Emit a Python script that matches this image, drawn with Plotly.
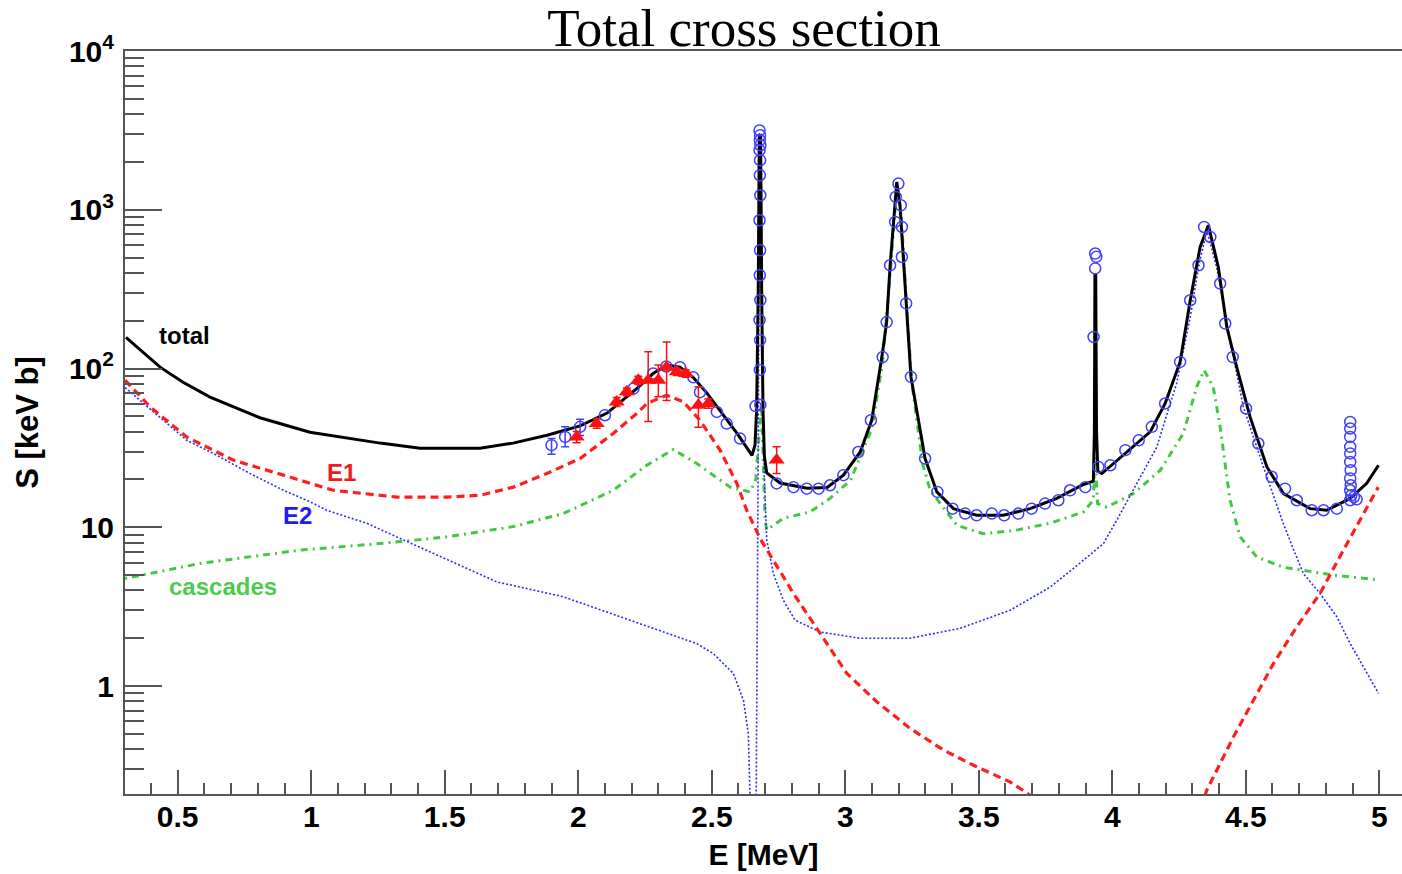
import math
import plotly.graph_objects as go

# ---------------- data (E in MeV, S in keV b) ----------------
total_E = [0.306, 0.37, 0.434, 0.52, 0.621, 0.808, 0.995, 1.258, 1.408, 1.632, 1.756, 1.883, 2.007, 2.108,
           2.158, 2.220, 2.280, 2.333, 2.381, 2.430, 2.482, 2.531, 2.594, 2.651, 2.662, 2.668, 2.674,
           2.678, 2.683, 2.687, 2.692, 2.697, 2.706, 2.756, 2.857, 2.932, 2.993, 3.056, 3.099, 3.137,
           3.155, 3.168, 3.180, 3.193, 3.205, 3.218, 3.228, 3.246, 3.299, 3.343, 3.405, 3.492, 3.592,
           3.692, 3.792, 3.892, 3.929, 3.933, 3.935, 3.938, 3.941, 3.946, 3.961, 4.042, 4.142, 4.198,
           4.254, 4.292, 4.329, 4.360, 4.397, 4.429, 4.466, 4.516, 4.579, 4.641, 4.741, 4.803, 4.891,
           4.953, 4.997]
total_S = [157, 126, 102, 82, 66, 49, 39.7, 33.9, 31.5, 31.5, 33.9, 38, 43.5, 52.4,
           61.4, 75, 93, 105, 102, 88, 70, 54.6, 39.2, 28.4, 33, 55, 300,
           2950, 2950, 300, 55, 28, 22, 19, 17.6, 17.8, 21.3, 29.8, 47.2, 118,
           196, 447, 838, 1496, 1067, 504, 257, 88.5, 27.1, 16.7, 13.1, 11.9, 11.9,
           13.1, 15.2, 18.6, 19.5, 40, 390, 390, 40, 22.5, 21.8, 28.4, 39.9, 60.2,
           110, 269, 583, 799, 436, 183, 102, 49.6, 24, 16.3, 13.1, 12.8, 15.2,
           18.9, 24.6]

e1_E = [0.303, 0.397, 0.534, 0.708, 0.896, 1.083, 1.320, 1.508, 1.632, 1.757, 1.882, 2.007, 2.131,
        2.219, 2.257, 2.331, 2.394, 2.456, 2.531, 2.594, 2.631, 2.681, 2.806, 2.906, 3.006, 3.118,
        3.243, 3.368, 3.492, 3.617, 3.686, 3.75, None,
        4.33, 4.354, 4.454, 4.529, 4.604, 4.691, 4.778, 4.866, 4.996]
e1_S = [84.4, 57.3, 37, 26.5, 21.3, 17.1, 15.5, 15.5, 15.9, 17.9, 21.8, 27.1, 39,
        52.1, 60.2, 67.9, 61.6, 47.2, 30.6, 18.9, 12.8, 8.5, 3.83, 2.14, 1.20, 0.796,
        0.541, 0.395, 0.310, 0.249, 0.209, 0.17, None,
        0.17, 0.221, 0.479, 0.815, 1.39, 2.36, 3.83, 7.2, 17.9]

e2_E = [0.303, 0.45, 0.534, 0.633, 0.771, 0.896, 0.995, 1.058, 1.208, 1.320, 1.445, 1.695, 1.944,
        2.194, 2.444, 2.506, 2.581, 2.619, 2.637, 2.643, 2.647, 2.662, 2.668, 2.674, 2.679, 2.684,
        2.690, 2.697, 2.706, 2.731, 2.768, 2.812, 2.906, 3.056, 3.243, 3.430, 3.617, 3.767, 3.892,
        3.967, 4.017, 4.079, 4.167, 4.217, 4.241, 4.292, 4.323, 4.354, 4.391, 4.441, 4.491, 4.566,
        4.641, 4.678, 4.716, 4.778, 4.841, 4.891, 4.997]
e2_S = [75.9, 47, 35.3, 29.2, 21.8, 17.1, 14.5, 12.8, 10.6, 8.7, 7.0, 4.53, 3.65,
        2.60, 1.85, 1.60, 1.20, 0.81, 0.50, 0.21, 0.01, 0.01, 0.3, 30, 3000, 3000,
        100, 20, 8.3, 5.1, 3.47, 2.60, 2.19, 2.0, 2.0, 2.31, 3.0, 4.2, 6.2,
        7.9, 11.1, 17.1, 32.1, 60.2, 80.5, 211, 436, 743, 436, 151, 57.3, 24,
        10.5, 7.3, 5.1, 3.83, 2.73, 1.85, 0.90]

casc_E = [0.303, 0.584, 0.958, 1.258, 1.508, 1.757, 1.944, 2.131, 2.257, 2.356, 2.444, 2.569, 2.644,
          2.665, 2.678, 2.687, 2.695, 2.700, 2.706, 2.768, 2.868, 2.943, 3.02, 3.068, 3.10, 3.14,
          3.17, 3.193, 3.21, 3.23, 3.25, 3.29, 3.318, 3.418, 3.517, 3.642, 3.767, 3.892, 3.929,
          3.936, 3.945, 3.979, 4.079, 4.18, 4.266, 4.316, 4.344, 4.378, 4.404, 4.441, 4.479, 4.541,
          4.641, 4.828, 4.985]
casc_S = [4.76, 5.92, 7.18, 7.9, 8.7, 10.1, 12.2, 17.1, 24.6, 30.9, 25.2, 17.9, 16.7,
          20, 40, 57, 20, 11, 9.6, 11.4, 12.5, 15.2, 19.8, 30.6, 42, 110,
          430, 1400, 900, 240, 80, 25, 17.1, 10.3, 9.1, 9.6, 10.6, 12.5, 14.8,
          27.7, 14.1, 13.4, 16.3, 22.9, 39, 76.6, 97.6, 76.6, 42.9, 14.8, 8.7, 6.5,
          5.6, 5.0, 4.69]

# open circles (data set 1)
circ_E = [2.100, 2.207, 2.281, 2.33, 2.381, 2.431, 2.456, 2.519, 2.556, 2.606, 2.664,
          2.679, 2.681, 2.680, 2.682, 2.679, 2.681, 2.680, 2.682, 2.679, 2.681, 2.680, 2.682,
          2.679, 2.681, 2.680, 2.682,
          2.743, 2.806, 2.856, 2.900, 2.943, 2.993, 3.049, 3.096, 3.140, 3.155, 3.168, 3.187,
          3.189, 3.199, 3.208, 3.212, 3.212, 3.228, 3.246, 3.299, 3.345, 3.402, 3.449, 3.492,
          3.549, 3.595, 3.648, 3.698, 3.748, 3.798, 3.842, 3.899, 3.936, 3.940, 3.936, 3.930,
          3.948, 3.993, 4.049, 4.099, 4.148, 4.198, 4.254, 4.292, 4.323, 4.344, 4.367, 4.404,
          4.423, 4.451, 4.501, 4.547, 4.597, 4.647, 4.691, 4.747, 4.791, 4.841,
          4.891, 4.891, 4.891, 4.891, 4.891, 4.891, 4.893, 4.891, 4.893, 4.891, 4.895, 4.891,
          4.905, 4.915]
circ_S = [50.8, 74.8, 93, 103, 102, 88, 71, 53.3, 45, 36.2, 58,
          3162, 2943, 2740, 2550, 2373, 2052, 1650, 1234, 859, 556, 387, 270,
          202, 151, 98, 59,
          18.9, 17.9, 17.5, 17.5, 18.4, 21.3, 29.8, 47.2, 118, 196, 447, 838,
          1205, 1462, 1067, 779, 504, 257, 88.5, 27.1, 16.7, 13.1, 12.2, 11.9,
          12.2, 11.9, 12.2, 13.1, 14.1, 14.8, 17.1, 17.9, 530, 505, 427, 158,
          24, 24.6, 30.6, 35.3, 42.9, 60.2, 110, 269, 447, 779, 674, 343,
          192, 118, 56, 33.7, 20.8, 17.5, 14.8, 12.8, 12.8, 13.1,
          46.1, 41.9, 37.1, 32.1, 29.2, 25.8, 22.9, 20.3, 18.4, 17.1, 15.9, 14.8,
          15.5, 15.0]

# open circles with error bars
circe_E = [1.900, 1.951, 2.007]
circe_S = [32.9, 37.1, 42.9]
circe_up = [3.3, 5.8, 5.0]
circe_dn = [4.1, 5.0, 5.0]

# filled triangles (data set 2)
tri_E = [1.994, 2.069, 2.144, 2.182, 2.225, 2.262, 2.300, 2.331, 2.369, 2.403, 2.450, 2.487, 2.743]
tri_S = [37.1, 45.1, 61.6, 71.3, 84.4, 84.4, 84.4, 102, 95.3, 93, 58.7, 60.2, 26.5]
tri_up = [3, 3, 4, 4, 5, 43, 21, 45, 5, 5, 18, 4, 5.6]
tri_dn = [3, 3, 4, 4, 5, 38, 18, 39, 5, 5, 16, 4, 4.7]

# curve labels: (text, E, S, colour)
labels = [("total", 0.527, 162, "#000000"),
          ("E1", 1.112, 22.2, "#ee1c1c"),
          ("E2", 0.947, 11.9, "#1c1cee"),
          ("cascades", 0.670, 4.26, "#4ccc4c")]

x_ticks = [0.5, 1, 1.5, 2, 2.5, 3, 3.5, 4, 4.5, 5]
x_tick_text = ["0.5", "1", "1.5", "2", "2.5", "3", "3.5", "4", "4.5", "5"]
y_ticks = [1, 10, 100, 1000, 10000]
y_tick_text = ["1", "10", "10<sup>2</sup>", "10<sup>3</sup>", "10<sup>4</sup>"]

# ---------------- figure ----------------
AX = "#555555"
fig = go.Figure()

fig.add_trace(go.Scatter(x=casc_E, y=casc_S, mode="lines",
                         line=dict(color="#44c844", width=3, dash="2px,5px,7px,5px")))
fig.add_trace(go.Scatter(x=e2_E, y=e2_S, mode="lines",
                         line=dict(color="#2a2aff", width=1.6, dash="2px,2px")))
fig.add_trace(go.Scatter(x=e1_E, y=e1_S, mode="lines", connectgaps=False,
                         line=dict(color="#ff1e1e", width=3.2, dash="8px,5px")))
fig.add_trace(go.Scatter(x=total_E, y=total_S, mode="lines",
                         line=dict(color="black", width=3)))
fig.add_trace(go.Scatter(x=circ_E, y=circ_S, mode="markers",
                         marker=dict(symbol="circle-open", size=11, color="#4040ff",
                                     line=dict(width=1.5, color="#4040ff"))))
fig.add_trace(go.Scatter(x=circe_E, y=circe_S, mode="markers",
                         marker=dict(symbol="circle-open", size=11, color="#4040ff",
                                     line=dict(width=1.5, color="#4040ff")),
                         error_y=dict(type="data", symmetric=False, array=circe_up,
                                      arrayminus=circe_dn, color="#4040ff",
                                      thickness=1.5, width=4)))
fig.add_trace(go.Scatter(x=tri_E, y=tri_S, mode="markers",
                         marker=dict(symbol="triangle-up", size=14, color="#ff1010"),
                         error_y=dict(type="data", symmetric=False, array=tri_up,
                                      arrayminus=tri_dn, color="#ff1010",
                                      thickness=1.5, width=4)))

for txt, ex, sy, col in labels:
    fig.add_annotation(x=ex, y=math.log10(sy), xref="x", yref="y", text=txt,
                       showarrow=False,
                       font=dict(family="Liberation Sans", size=24, color=col, weight="bold"))

minor_y = []
for dec in [0.1, 1, 10, 100, 1000]:
    for k in range(2, 10):
        minor_y.append(k * dec)

fig.update_layout(
    width=1402, height=874,
    margin=dict(l=125, r=0, t=51, b=80, autoexpand=False),
    paper_bgcolor="white", plot_bgcolor="white",
    showlegend=False,
    title=dict(text="Total cross section", x=744 / 1402, xanchor="center",
               y=1 - 27 / 874, yanchor="middle", xref="container", yref="container",
               font=dict(family="Liberation Serif", size=53, color="black")),
    xaxis=dict(range=[0.3026, 5.085], showgrid=False, zeroline=False, automargin=False,
               showline=True, linecolor=AX, linewidth=2, mirror=True,
               ticks="inside", ticklen=24, tickwidth=2, tickcolor=AX,
               tickmode="array", tickvals=x_ticks, ticktext=x_tick_text,
               ticklabelstandoff=-5,
               tickfont=dict(family="Liberation Sans", size=30, color="black", weight="bold"),
               minor=dict(dtick=0.1, tick0=0, ticks="inside", ticklen=11, tickwidth=2,
                          tickcolor=AX),
               title=dict(text="E [MeV]", standoff=12,
                          font=dict(family="Liberation Sans", size=30, color="black",
                                    weight="bold"))),
    yaxis=dict(type="log", range=[-0.68, 4.0], showgrid=False, zeroline=False, automargin=False,
               showline=True, linecolor=AX, linewidth=2, mirror=False,
               ticks="inside", ticklen=37, tickwidth=2, tickcolor=AX,
               tickmode="array", tickvals=y_ticks, ticktext=y_tick_text,
               ticklabelstandoff=3,
               tickfont=dict(family="Liberation Sans", size=30, color="black", weight="bold"),
               minor=dict(tickmode="array", tickvals=minor_y, ticks="inside", ticklen=19,
                          tickwidth=2, tickcolor=AX),
               title=dict(text="S [keV b]", standoff=21,
                          font=dict(family="Liberation Sans", size=31, color="black",
                                    weight="bold"))),
)

fig.write_html("out.html",
               config={"displayModeBar": False},
               post_script="document.body.style.margin='0';"
                           "document.body.style.padding='0';"
                           "document.body.style.overflow='hidden';")
